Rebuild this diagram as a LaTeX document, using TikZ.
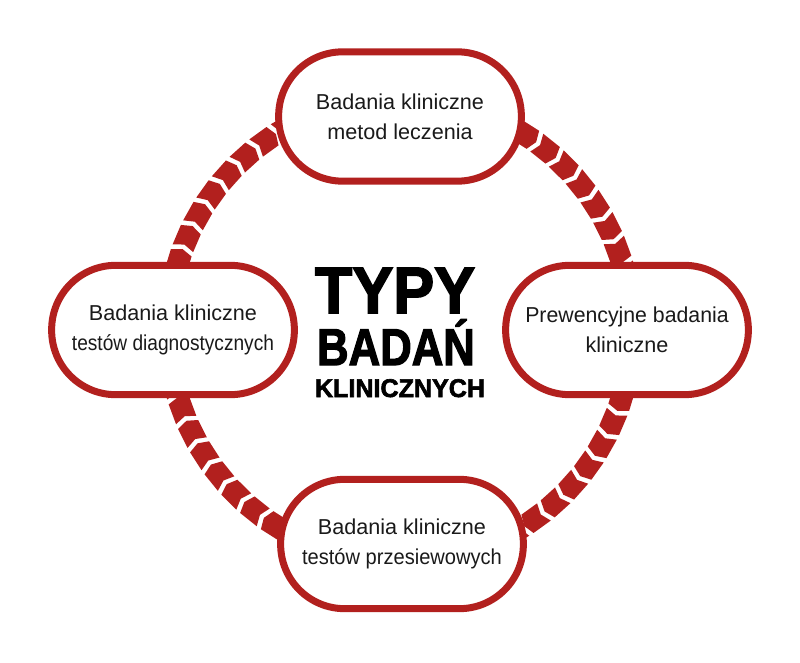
\documentclass[tikz,border=0pt]{standalone}
\usepackage{fontspec}
\setmainfont{Liberation Sans}
\newfontfamily\titlefont[FakeBold=2.5]{Liberation Sans Bold}
\definecolor{brick}{RGB}{178,32,30}
\definecolor{ink}{RGB}{26,26,26}
\begin{document}
\begin{tikzpicture}[x=0.75pt,y=-0.75pt,
  stage/.style={draw=brick, line width=5.25pt, fill=white, rectangle,
    rounded corners=48pt, minimum width=182pt, minimum height=97pt,
    align=center, font=\fontsize{16.2pt}{22.5pt}\selectfont, text=ink, inner sep=0pt},
  chev/.style={fill=brick},
  titleline/.style={anchor=base, text=black, inner sep=0pt}]
\useasboundingbox (0,0) rectangle (800,663);
\begin{scope}[shift={(400,330)}]
\foreach \i in {0,...,57}{
  \pgfmathsetmacro\a{\i*6.2069+2}
  \pgfmathsetmacro\b{\a+5.0}
  \pgfmathsetmacro\am{\a+1.0}
  \pgfmathsetmacro\bm{\b+1.0}
  \fill[chev] (\a:243) -- (\am:232) -- (\a:221) -- (\b:221) -- (\bm:232) -- (\b:243) -- cycle;
}
\end{scope}
\node[stage] (top) at (400,116.5) {Badania kliniczne\\metod leczenia};
\node[stage] (left) at (173,330) {Badania kliniczne\\\scalebox{0.886}[1]{testów diagnostycznych}};
\node[stage] (right) at (627,330) {\scalebox{0.985}[1]{Prewencyjne badania}\\kliniczne};
\node[stage] (bottom) at (402,544) {Badania kliniczne\\\scalebox{0.93}[1]{testów przesiewowych}};
\node[titleline, font=\titlefont\fontsize{49.2pt}{50pt}\selectfont] (t1) at (395,313) {\scalebox{0.935}[1]{TYPY}};
\node[titleline, font=\titlefont\fontsize{38.8pt}{40pt}\selectfont] (t2) at (396,365) {\scalebox{0.845}[1]{BADAŃ}};
\node[titleline, font=\titlefont\fontsize{19.2pt}{20pt}\selectfont] (t3) at (400,397) {\scalebox{0.98}[1]{KLINICZNYCH}};
\end{tikzpicture}
\end{document}
